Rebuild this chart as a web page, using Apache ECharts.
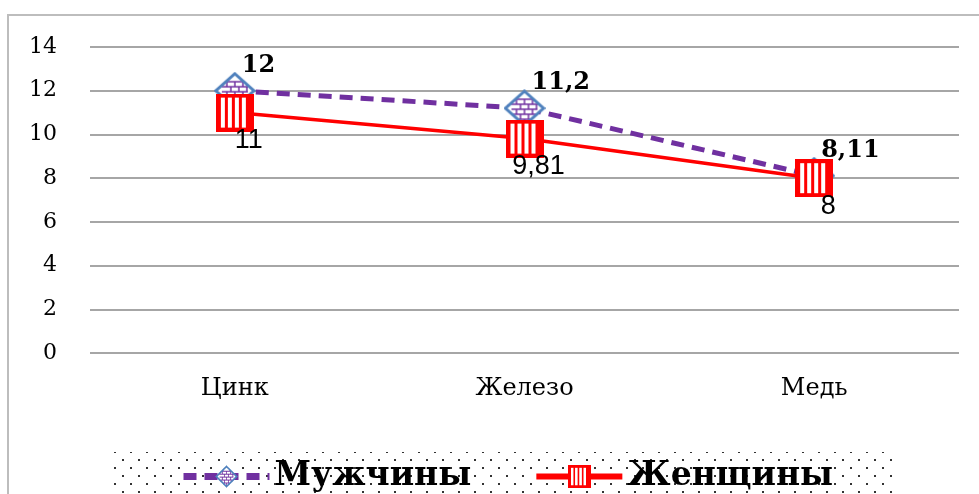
<!DOCTYPE html>
<html>
<head>
<meta charset="utf-8">
<script src="https://cdn.jsdelivr.net/npm/echarts@6/dist/echarts.min.js"></script>
<style>
  html, body { margin: 0; padding: 0; background: #fff; }
  #chart { width: 979px; height: 494px; }
</style>
</head>
<body>
<div id="chart"></div>
<script>
// Chart data
var categories = ['Цинк', 'Железо', 'Медь'];
var seriesNames = ['Мужчины', 'Женщины'];
var menValues = [12, 11.2, 8.11];
var womenValues = [11, 9.81, 8];
var yTicks = [0, 2, 4, 6, 8, 10, 12, 14];

// Number format with a comma decimal separator
function fmt(v) { return String(v).replace('.', ','); }

// Diamond marker: blue outline, white fill, small purple brick texture
function diamondImage() {
  var c = document.createElement('canvas');
  c.width = 42; c.height = 38;
  var g = c.getContext('2d');
  function path() {
    g.beginPath();
    g.moveTo(21, 2); g.lineTo(40, 19); g.lineTo(21, 36); g.lineTo(2, 19); g.closePath();
  }
  path();
  g.fillStyle = '#ffffff'; g.fill();
  g.save(); g.clip();
  g.strokeStyle = '#7030a0'; g.lineWidth = 1.5;
  for (var y = 10; y < 32; y += 5) {
    g.beginPath(); g.moveTo(8, y); g.lineTo(34, y); g.stroke();
  }
  for (var r = 0; r < 5; r++) {
    var y0 = 10 + r * 5, off = (r % 2) ? 4 : 0;
    for (var x = 13 + off; x < 34; x += 8) {
      g.beginPath(); g.moveTo(x, y0); g.lineTo(x, y0 + 5); g.stroke();
    }
  }
  g.restore();
  path();
  g.strokeStyle = '#4f81bd'; g.lineWidth = 3; g.stroke();
  return c.toDataURL();
}

// Square marker: red with white vertical stripes
function squareImage() {
  var c = document.createElement('canvas');
  c.width = 38; c.height = 38;
  var g = c.getContext('2d');
  g.fillStyle = '#ff0000'; g.fillRect(0, 0, 38, 38);
  g.fillStyle = '#ffffff';
  for (var x = 5; x < 33; x += 7) {
    g.fillRect(x, 4, 4, 30);
  }
  g.fillStyle = '#ff0000';
  g.fillRect(0, 0, 38, 3); g.fillRect(0, 35, 38, 3);
  g.fillRect(0, 0, 3, 38); g.fillRect(35, 0, 3, 38);
  return c.toDataURL();
}

// Dotted fill for the legend band
function dotPattern() {
  var c = document.createElement('canvas');
  c.width = 16; c.height = 16;
  var g = c.getContext('2d');
  g.fillStyle = '#333333';
  g.fillRect(2, 3, 2, 2);
  g.fillRect(10, 11, 2, 2);
  return c;
}

var chart = echarts.init(document.getElementById('chart'), null, { renderer: 'canvas' });

var axisFont = { fontFamily: 'DejaVu Serif', fontSize: 22, color: '#000' };

chart.setOption({
  backgroundColor: '#ffffff',
  animation: false,
  graphic: [
    {
      type: 'rect', z: -10, silent: true,
      shape: { x: 8, y: 15, width: 990, height: 500 },
      style: { fill: '#ffffff', stroke: '#bdbdbd', lineWidth: 2 }
    },
    {
      type: 'rect', z: -5, silent: true,
      shape: { x: 113, y: 452, width: 780, height: 50 },
      style: { fill: { image: dotPattern(), repeat: 'repeat' } }
    }
  ],
  grid: { left: 90, right: 20, top: 47, bottom: 141 },
  legend: {
    data: [
      { name: seriesNames[0], lineStyle: { width: 7 } },
      { name: seriesNames[1], lineStyle: { width: 6 } }
    ],
    left: 175, top: 455,
    itemWidth: 86, itemHeight: 28,
    itemGap: 62,
    textStyle: { fontFamily: 'DejaVu Serif', fontWeight: 'bold', fontSize: 33, color: '#000' }
  },
  xAxis: {
    type: 'category',
    data: categories,
    boundaryGap: true,
    axisLine: { show: false },
    axisTick: { show: false },
    axisLabel: Object.assign({}, axisFont, { margin: 24, fontSize: 24 })
  },
  yAxis: {
    type: 'value',
    min: yTicks[0], max: yTicks[yTicks.length - 1], interval: 2,
    axisLine: { show: false },
    axisTick: { show: false },
    axisLabel: Object.assign({}, axisFont, { margin: 33 }),
    splitLine: { lineStyle: { color: '#a6a6a6', width: 2 } }
  },
  series: [
    {
      name: seriesNames[0],
      type: 'line',
      data: menValues,
      z: 3,
      symbol: 'image://' + diamondImage(),
      symbolSize: [42, 38],
      lineStyle: { color: '#7030a0', width: 5, type: [13, 8] },
      itemStyle: { color: '#7030a0' },
      label: {
        show: true,
        position: [28, -6],
        align: 'left', verticalAlign: 'middle',
        formatter: function (p) { return fmt(p.value); },
        fontFamily: 'DejaVu Serif', fontWeight: 'bold', fontSize: 24, color: '#000'
      }
    },
    {
      name: seriesNames[1],
      type: 'line',
      data: womenValues,
      z: 4,
      symbol: 'image://' + squareImage(),
      symbolSize: [38, 38],
      lineStyle: { color: '#ff0000', width: 3.5 },
      itemStyle: { color: '#ff0000' },
      label: {
        show: true,
        position: [33, 47],
        align: 'center', verticalAlign: 'middle',
        formatter: function (p) { return fmt(p.value); },
        fontFamily: 'Liberation Sans', fontSize: 27, color: '#000'
      }
    }
  ]
});
</script>
</body>
</html>
